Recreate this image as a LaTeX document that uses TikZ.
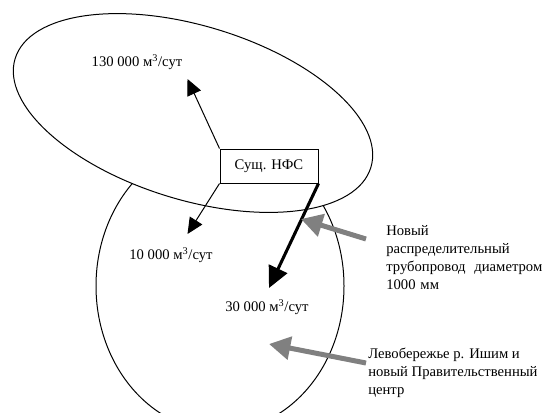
\documentclass[tikz,border=0pt]{standalone}
\usepackage{fontspec}
\setmainfont{Liberation Serif}
\usetikzlibrary{arrows.meta, positioning}
\definecolor{pipegray}{RGB}{128,128,128}

\begin{document}
\begin{tikzpicture}[x=0.75pt, y=-0.75pt, font=\fontsize{11}{13.5}\selectfont,
    flow/.style={-{Triangle[length=12pt, width=11pt]}, line width=0.75pt},
    mainflow/.style={-{Triangle[length=16pt, width=15pt]}, line width=2.3pt},
    pointer/.style={-{Triangle[length=16pt, width=17pt]}, line width=3.75pt, pipegray}]
    \clip (0,0) rectangle (542,412);

    % Zones (left bank below, existing city above)
    \draw[line width=0.75pt] (220,286) ellipse [x radius=124, y radius=145];
    \draw[line width=0.75pt, fill=white, rotate around={-17:(193,113)}] (193,113) ellipse [x radius=186, y radius=87];

    % Station
    \node[draw, line width=0.75pt, fill=white, minimum width=73.5pt, minimum height=25.5pt] (nfs) at (269,166) {Сущ. НФС};

    % Flow targets
    \coordinate (tipA) at (187.5,79);
    \coordinate (tipB) at (187.5,234);
    \coordinate (tipC) at (269,288);
    \node (qA) at (137,62) {130 000 м\textsuperscript{3}/сут};
    \node (qB) at (171,255) {10 000 м\textsuperscript{3}/сут};
    \node (qC) at (267,307) {30 000 м\textsuperscript{3}/сут};

    \draw[flow] (nfs.north west) -- (tipA);
    \draw[flow] (nfs.south west) -- (tipB);
    \draw[mainflow] (nfs.south east) -- (tipC);

    % Side notes
    \node[anchor=west, text width=117pt, align=left, inner sep=0pt] (pipe) at (386,258)
        {Новый\\ распределительный\\ трубопровод\hfill диаметром\\ 1000 мм};
    \node[anchor=west, align=left, inner sep=0pt] (bank) at (368,372.5)
        {Левобережье р. Ишим и\\ новый Правительственный\\ центр};

    \coordinate (fromPipe) at (366,239);
    \coordinate (toPipe) at (301,219);
    \coordinate (fromBank) at (366,363);
    \coordinate (toBank) at (269,344);
    \draw[pointer] (fromPipe) -- (toPipe);
    \draw[pointer] (fromBank) -- (toBank);
\end{tikzpicture}
\end{document}
